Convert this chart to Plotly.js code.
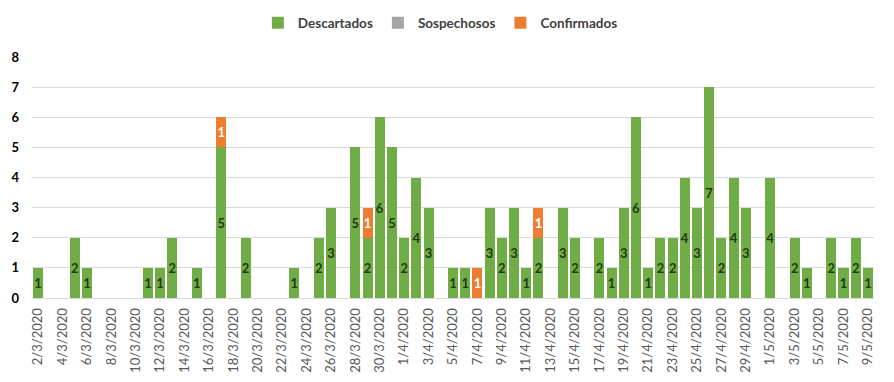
<!DOCTYPE html>
<html>
<head>
<meta charset="utf-8">
<script src="https://cdn.plot.ly/plotly-3.0.1.min.js"></script>
<style>
  html, body { margin: 0; padding: 0; background: #fff; }
  #chart { width: 894px; height: 382px; }
</style>
</head>
<body>
<div id="chart"></div>
<script>
const dates = [
  "2/3/2020","3/3/2020","4/3/2020","5/3/2020","6/3/2020","7/3/2020","8/3/2020","9/3/2020","10/3/2020","11/3/2020",
  "12/3/2020","13/3/2020","14/3/2020","15/3/2020","16/3/2020","17/3/2020","18/3/2020","19/3/2020","20/3/2020","21/3/2020",
  "22/3/2020","23/3/2020","24/3/2020","25/3/2020","26/3/2020","27/3/2020","28/3/2020","29/3/2020","30/3/2020","31/3/2020",
  "1/4/2020","2/4/2020","3/4/2020","4/4/2020","5/4/2020","6/4/2020","7/4/2020","8/4/2020","9/4/2020","10/4/2020",
  "11/4/2020","12/4/2020","13/4/2020","14/4/2020","15/4/2020","16/4/2020","17/4/2020","18/4/2020","19/4/2020","20/4/2020",
  "21/4/2020","22/4/2020","23/4/2020","24/4/2020","25/4/2020","26/4/2020","27/4/2020","28/4/2020","29/4/2020","30/4/2020",
  "1/5/2020","2/5/2020","3/5/2020","4/5/2020","5/5/2020","6/5/2020","7/5/2020","8/5/2020","9/5/2020"
];

const descartados = [
  1,0,0,2,1,0,0,0,0,1,
  1,2,0,1,0,5,0,2,0,0,
  0,1,0,2,3,0,5,2,6,5,
  2,4,3,0,1,1,0,3,2,3,
  1,2,0,3,2,0,2,1,3,6,
  1,2,2,4,3,7,2,4,3,0,
  4,0,2,1,0,2,1,2,1
];

const sospechosos = [
  0,0,0,0,0,0,0,0,0,0,
  0,0,0,0,0,0,0,0,0,0,
  0,0,0,0,0,0,0,0,0,0,
  0,0,0,0,0,0,0,0,0,0,
  0,0,0,0,0,0,0,0,0,0,
  0,0,0,0,0,0,0,0,0,0,
  0,0,0,0,0,0,0,0,0
];

const confirmados = [
  0,0,0,0,0,0,0,0,0,0,
  0,0,0,0,0,1,0,0,0,0,
  0,0,0,0,0,0,0,1,0,0,
  0,0,0,0,0,0,1,0,0,0,
  0,1,0,0,0,0,0,0,0,0,
  0,0,0,0,0,0,0,0,0,0,
  0,0,0,0,0,0,0,0,0
];

const tickLabels = dates.filter((d, i) => i % 2 === 0);

const blankZero = arr => arr.map(v => v === 0 ? null : v);
const labelOf = arr => arr.map(v => v === 0 ? "" : String(v));

const FONT = "Lato, 'Open Sans', 'Liberation Sans', sans-serif";

const traces = [
  {
    type: "bar", name: "Descartados", x: dates, y: blankZero(descartados),
    text: labelOf(descartados), textposition: "inside", insidetextanchor: "middle",
    textangle: 0, constraintext: "none",
    textfont: { family: FONT, size: 13, color: "#1f3d0c", weight: "bold" },
    marker: { color: "#70ad47", line: { width: 0 } },
    hoverinfo: "x+y+name"
  },
  {
    type: "bar", name: "Sospechosos", x: dates, y: sospechosos,
    marker: { color: "#a5a5a5", line: { width: 0 } },
    hoverinfo: "x+y+name"
  },
  {
    type: "bar", name: "Confirmados", x: dates, y: blankZero(confirmados),
    text: labelOf(confirmados), textposition: "inside", insidetextanchor: "middle",
    textangle: 0, constraintext: "none",
    textfont: { family: FONT, size: 13, color: "#ffffff", weight: "bold" },
    marker: { color: "#ed7d31", line: { width: 0 } },
    hoverinfo: "x+y+name"
  }
];

const layout = {
  width: 894, height: 382,
  margin: { l: 32, r: 20, t: 57, b: 84, pad: 0, autoexpand: false },
  paper_bgcolor: "#ffffff", plot_bgcolor: "#ffffff",
  font: { family: FONT, color: "#404040" },
  barmode: "stack",
  bargap: 0.18,
  showlegend: true,
  legend: {
    orientation: "h", x: 0.485, xanchor: "center",
    yref: "container", y: 1 - 23 / 382, yanchor: "middle",
    font: { family: FONT, size: 13.5, color: "#404040", weight: "bold" },
    itemwidth: 30, traceorder: "normal"
  },
  xaxis: {
    type: "category",
    tickmode: "array", tickvals: tickLabels, ticktext: tickLabels,
    tickangle: -90,
    tickfont: { family: FONT, size: 13, color: "#595959" },
    ticks: "", showgrid: false, zeroline: false,
    showline: true, linecolor: "#d9d9d9", linewidth: 1,
    range: [-0.5, dates.length - 0.5],
    ticklabelstandoff: 4, automargin: false
  },
  xaxis2: {
    overlaying: "x", anchor: "y", side: "bottom", type: "linear",
    range: [-0.5, dates.length - 0.5],
    tickmode: "linear", tick0: -0.5, dtick: 2,
    ticks: "outside", ticklen: 7, tickcolor: "#d9d9d9", tickwidth: 1,
    showticklabels: false, showgrid: false, zeroline: false, showline: false
  },
  yaxis: {
    range: [0, 8], tickmode: "linear", tick0: 0, dtick: 1,
    showgrid: true, gridcolor: "#d9d9d9", gridwidth: 1,
    zeroline: false, showline: false, ticks: "",
    tickfont: { family: FONT, size: 13, color: "#000000", weight: "bold" },
    ticklabelstandoff: 12, automargin: false
  }
};

Plotly.newPlot("chart", traces, layout, { displayModeBar: false, staticPlot: true });
</script>
</body>
</html>
